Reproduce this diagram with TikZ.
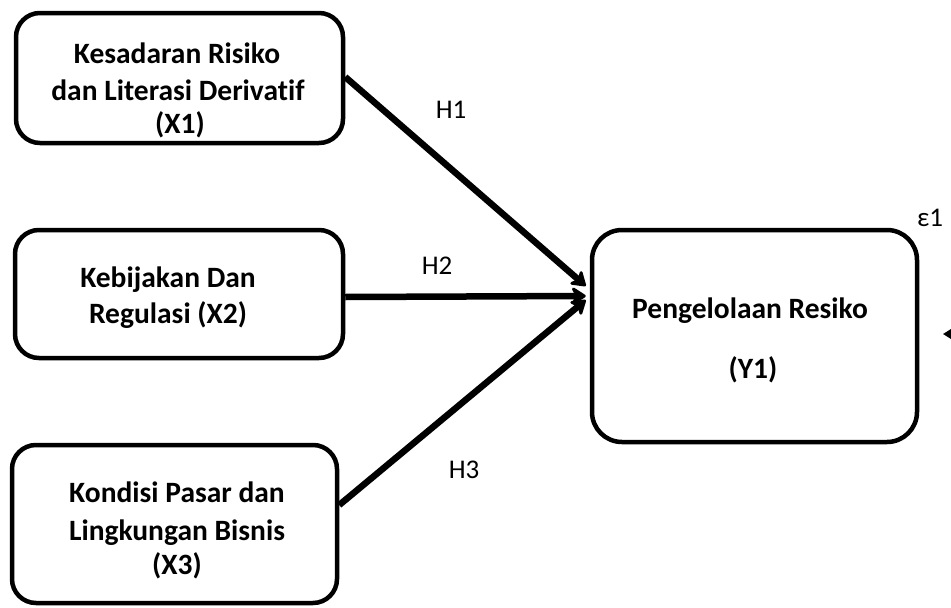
\documentclass[tikz,border=0pt]{standalone}
\usepackage{fontspec}
\setmainfont[Ligatures={NoCommon}]{Carlito}
\usetikzlibrary{arrows.meta}
\tikzset{
  box/.style={draw=black, line width=4.5pt, rounded corners=24pt, inner sep=0pt},
  boxtext/.style={font=\fontsize{29.5}{36}\selectfont\bfseries, align=center, inner sep=0pt, anchor=base},
  hlabel/.style={font=\fontsize{27}{32}\selectfont, inner sep=0pt, anchor=base},
  arr/.style={line width=6.5pt, -{Stealth[length=17pt,width=22pt,round]}},
}
\begin{document}
\begin{tikzpicture}[x=1pt,y=-1pt]
\useasboundingbox (0,0) rectangle (951,608);
% boxes
\node[box, minimum width=327pt, minimum height=130pt] (x1) at (179.5,78) {};
\node[box, minimum width=328pt, minimum height=128pt] (x2) at (179,294) {};
\node[box, minimum width=325pt, minimum height=158pt] (x3) at (174.5,524) {};
\node[box, minimum width=325pt, minimum height=212pt, rounded corners=30pt] (y1) at (754.5,336) {};
% texts
\node[boxtext] (t1a) at (177,63) {Kesadaran Risiko};
\node[boxtext] (t1b) at (178,100) {dan Literasi Derivatif};
\node[boxtext] (t1c) at (180,133) {(X1)};
\node[boxtext] (t2a) at (168,287) {Kebijakan Dan};
\node[boxtext] (t2b) at (168,323) {Regulasi (X2)};
\node[boxtext] (t3a) at (177,502) {Kondisi Pasar dan};
\node[boxtext] (t3b) at (177,540) {Lingkungan Bisnis};
\node[boxtext] (t3c) at (177,574) {(X3)};
\node[boxtext] (ty1) at (750,318) {Pengelolaan Resiko};
\node[boxtext] (ty2) at (753,378) {(Y1)};
% hypothesis labels
\node[hlabel] (h1) at (451,118) {H1};
\node[hlabel] (h2) at (437,274) {H2};
\node[hlabel] (h3) at (464,478) {H3};
\node[hlabel] (eps) at (930,226) {ε1};
% connectors
\coordinate (e1) at ([xshift=-4pt,yshift=50pt]y1.west);
\coordinate (e2) at ([xshift=-4pt,yshift=40pt]y1.west);
\coordinate (e3) at ([xshift=-4pt,yshift=36pt]y1.west);
\draw[arr] ([yshift=1pt]x1.east) -- (e1);
\draw[arr] ([yshift=-3pt]x2.east) -- (e2);
\draw[arr] ([yshift=19pt]x3.east) -- (e3);
% error arrow (mostly outside the frame)
\coordinate (es) at (975,334);
\coordinate (et) at (943,334);
\draw[line width=2pt, -{Triangle[length=10pt,width=12pt]}] (es) -- (et);
\end{tikzpicture}
\end{document}
